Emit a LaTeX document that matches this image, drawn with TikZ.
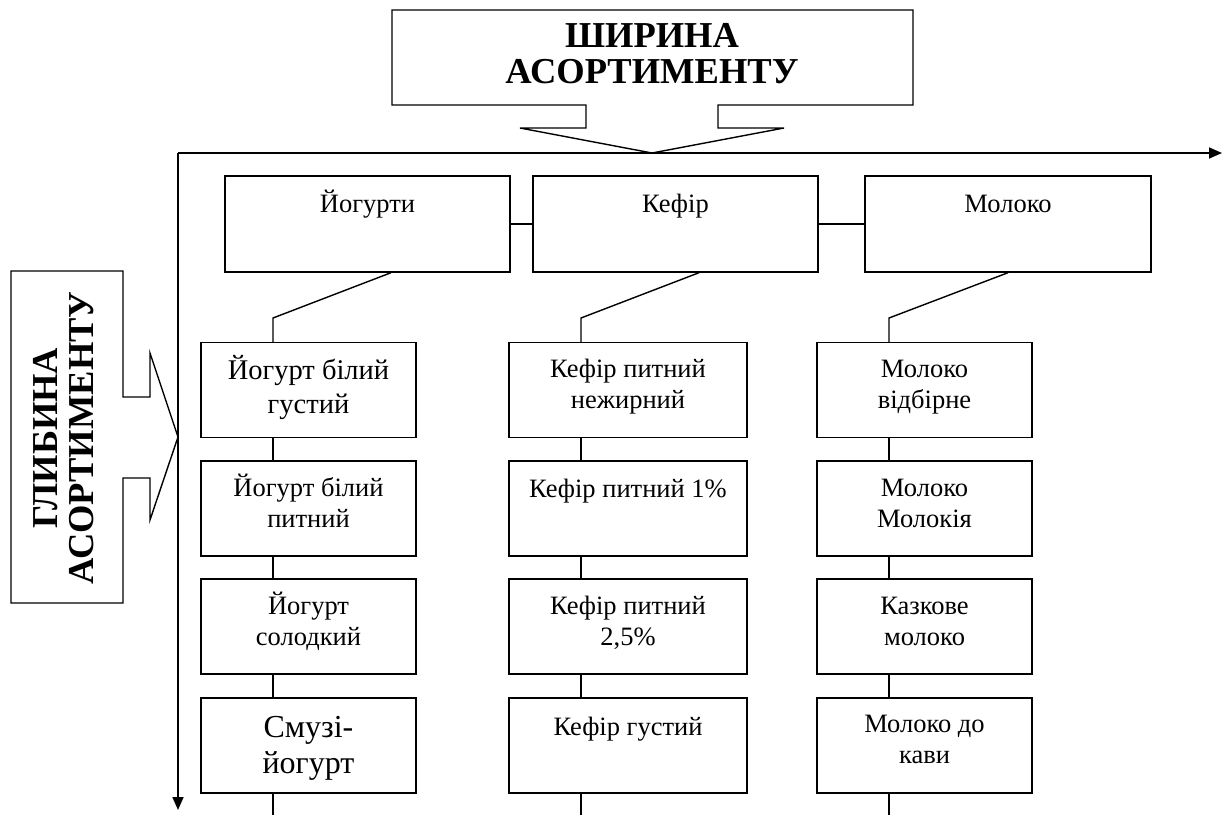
\documentclass[tikz,border=0pt]{standalone}
\usepackage{fontspec}
\setmainfont{Liberation Serif}
\usetikzlibrary{arrows.meta}
\begin{document}
\begin{tikzpicture}[x=1pt,y=-1pt,
  line width=1.4pt,
  box/.style={draw, inner sep=0pt, line width=1.4pt},
  topbox/.style={box, minimum width=285pt, minimum height=96pt},
  cbox/.style={box, minimum width=215pt, minimum height=95pt},
  wbox/.style={box, minimum width=238pt, minimum height=95pt},
  lbl/.style={anchor=base, align=center, inner sep=0pt, font=\fontsize{26.5}{31}\selectfont},
  big/.style={lbl, font=\fontsize{28.5}{34}\selectfont},
  huge/.style={lbl, font=\fontsize{32}{36}\selectfont},
  title/.style={align=center, inner sep=0pt, font=\fontsize{36.5}{36}\selectfont\bfseries},
  link/.style={draw, line width=1.4pt},
  axis/.style={draw, line width=1.6pt, -{Triangle[length=13pt,width=11pt]}}
]
\useasboundingbox (0,0) rectangle (1227,815);

% callouts
\draw[line width=1.4pt] (392,10) -- (913,10) -- (913,105) -- (718,105) -- (718,128) -- (784,128)
  -- (652,153) -- (520,128) -- (586,128) -- (586,105) -- (392,105) -- cycle;
\node[title] (wt) at (652,54) {ШИРИНА\\АСОРТИМЕНТУ};

\draw[line width=1.4pt] (11,271) -- (123,271) -- (123,397) -- (150,397) -- (150,353) -- (178,437)
  -- (150,520) -- (150,478) -- (123,478) -- (123,603) -- (11,603) -- cycle;
\node[title, rotate=90] (gt) at (64,438) {ГЛИБИНА\\АСОРТИМЕНТУ};

% axes
\coordinate (o) at (178,153);
\coordinate (xe) at (1222,153);
\coordinate (ye) at (178,810);
\draw[axis] (o) -- (xe);
\draw[axis] (o) -- (ye);

% top row
\node[topbox] (yog) at (367.5,224) {};
\node[topbox] (kef) at (675.5,224) {};
\node[topbox, minimum width=286pt] (mol) at (1008,224) {};
\node[lbl] (tyog) at (367.5,212) {Йогурти};
\node[lbl] (tkef) at (675.5,212) {Кефір};
\node[lbl] (tmol) at (1008,212) {Молоко};
\draw[link] (yog.east) -- (kef.west);
\draw[link] (kef.east) -- (mol.west);

% column 1
\node[cbox] (a1) at (308.5,390) {};
\node[cbox] (a2) at (308.5,508.5) {};
\node[cbox] (a3) at (308.5,626.5) {};
\node[cbox] (a4) at (308.5,745.5) {};
\node[big] (ta1) at (308.5,413) {Йогурт білий\\густий};
\node[lbl] (ta2) at (308.5,527) {Йогурт білий\\питний};
\node[lbl] (ta3) at (308.5,645) {Йогурт\\солодкий};
\node[huge] (ta4) at (308.5,773) {Смузі-\\йогурт};

% column 2
\node[wbox] (b1) at (628,390) {};
\node[wbox] (b2) at (628,508.5) {};
\node[wbox] (b3) at (628,626.5) {};
\node[wbox] (b4) at (628,745.5) {};
\node[lbl] (tb1) at (628,408) {Кефір питний\\нежирний};
\node[lbl] (tb2) at (628,497) {Кефір питний 1\%};
\node[lbl] (tb3) at (628,645) {Кефір питний\\2,5\%};
\node[lbl] (tb4) at (628,735) {Кефір густий};

% column 3
\node[cbox] (c1) at (924.5,390) {};
\node[cbox] (c2) at (924.5,508.5) {};
\node[cbox] (c3) at (924.5,626.5) {};
\node[cbox] (c4) at (924.5,745.5) {};
\node[lbl] (tc1) at (924.5,408) {Молоко\\відбірне};
\node[lbl] (tc2) at (924.5,527) {Молоко\\Молокія};
\node[lbl] (tc3) at (924.5,645) {Казкове\\молоко};
\node[lbl] (tc4) at (924.5,763) {Молоко до\\кави};

% connectors
\coordinate (k1) at (273,318);
\coordinate (k2) at (581,318);
\coordinate (k3) at (889,318);
\coordinate (e1) at (273,815);
\coordinate (e2) at (581,815);
\coordinate (e3) at (889,815);
\draw[link] ([xshift=23.5pt]yog.south) -- (k1) -- (k1 |- a1.north);
\draw[link] ([xshift=23.5pt]kef.south) -- (k2) -- (k2 |- b1.north);
\draw[link] (mol.south) -- (k3) -- (k3 |- c1.north);
\foreach \p/\q in {a1/a2,a2/a3,a3/a4}{\draw[link] (k1 |- \p.south) -- (k1 |- \q.north);}
\foreach \p/\q in {b1/b2,b2/b3,b3/b4}{\draw[link] (k2 |- \p.south) -- (k2 |- \q.north);}
\foreach \p/\q in {c1/c2,c2/c3,c3/c4}{\draw[link] (k3 |- \p.south) -- (k3 |- \q.north);}
\draw[link] (k1 |- a4.south) -- (e1);
\draw[link] (k2 |- b4.south) -- (e2);
\draw[link] (k3 |- c4.south) -- (e3);
\end{tikzpicture}
\end{document}
